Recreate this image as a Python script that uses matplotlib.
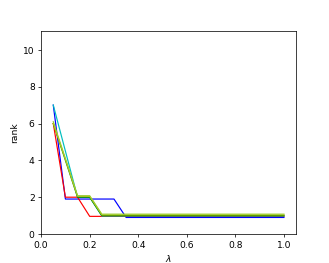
import matplotlib
matplotlib.use("Agg")
import matplotlib.pyplot as plt
import numpy as np

lam = [0.05, 0.1, 0.15, 0.2, 0.25, 0.3, 0.35, 0.4, 0.45, 0.5, 0.55, 0.6, 0.65, 0.7, 0.75, 0.8, 0.85, 0.9, 0.95, 1.0]
rank_blue   = [7, 1.9, 1.9, 1.9, 1.9, 1.9, 0.9, 0.9, 0.9, 0.9, 0.9, 0.9, 0.9, 0.9, 0.9, 0.9, 0.9, 0.9, 0.9, 0.9]
rank_red    = [6, 2.0, 2.0, 0.96, 0.96, 0.96, 0.96, 0.96, 0.96, 0.96, 0.96, 0.96, 0.96, 0.96, 0.96, 0.96, 0.96, 0.96, 0.96, 0.96]
rank_cyan   = [7, 4.5, 2.0, 2.0, 0.98, 0.98, 0.98, 0.98, 0.98, 0.98, 0.98, 0.98, 0.98, 0.98, 0.98, 0.98, 0.98, 0.98, 0.98, 0.98]
rank_green  = [6, 4.0, 2.0, 2.0, 1.0, 1.0, 1.0, 1.0, 1.0, 1.0, 1.0, 1.0, 1.0, 1.0, 1.0, 1.0, 1.0, 1.0, 1.0, 1.0]
rank_yellow = [6, 4.05, 2.05, 2.05, 1.04, 1.04, 1.04, 1.04, 1.04, 1.04, 1.04, 1.04, 1.04, 1.04, 1.04, 1.04, 1.04, 1.04, 1.04, 1.04]
rank_lime   = [6.1, 4.1, 2.08, 2.08, 1.08, 1.08, 1.08, 1.08, 1.08, 1.08, 1.08, 1.08, 1.08, 1.08, 1.08, 1.08, 1.08, 1.08, 1.08, 1.08]

series = [(rank_blue, 'b'), (rank_red, 'r'), (rank_cyan, 'c'),
          (rank_green, 'g'), (rank_yellow, 'y'), (rank_lime, 'yellowgreen')]

fig = plt.figure(figsize=(5, 4), dpi=65.8)
ax = fig.add_subplot(111)
for vals, col in series:
    ax.plot(lam, vals, color=col, linewidth=1.3)
ax.set_xlim(0, 1.05)
ax.set_ylim(0, 11)
ax.set_xticks([0.0, 0.2, 0.4, 0.6, 0.8, 1.0])
ax.set_yticks([0, 2, 4, 6, 8, 10])
ax.set_xlabel(r'$\lambda$')
ax.set_ylabel('rank')
fig.savefig('out.png', dpi=65.8)
